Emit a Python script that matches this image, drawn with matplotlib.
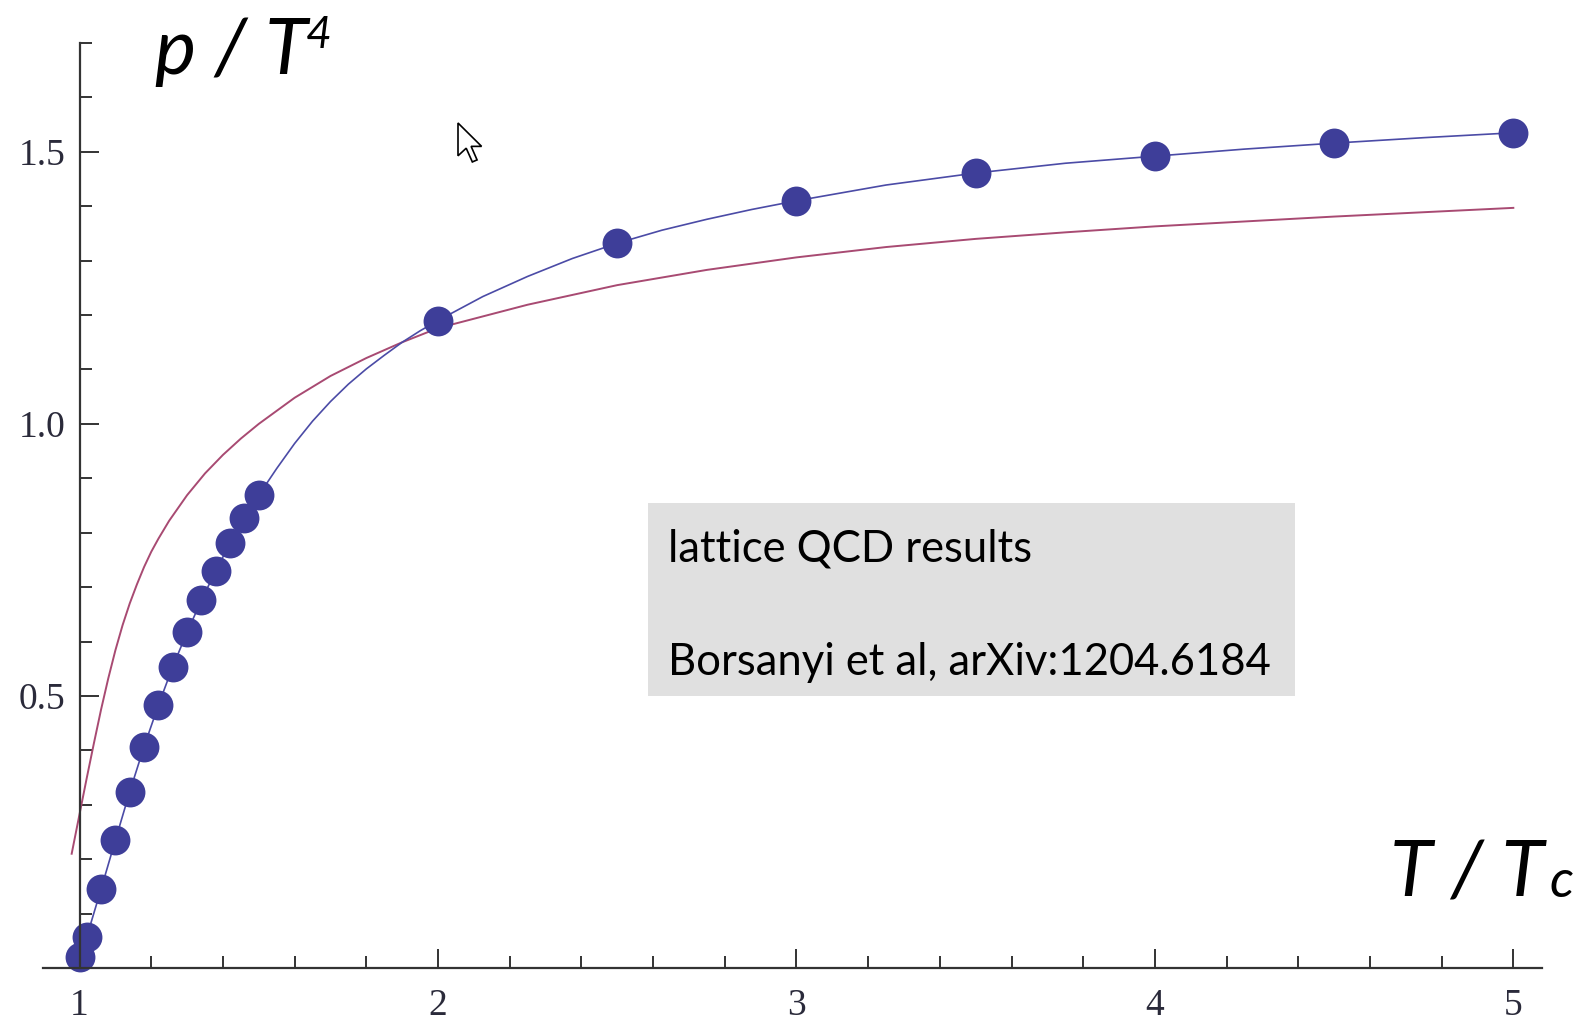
import matplotlib
matplotlib.use("Agg")
import matplotlib.pyplot as plt
from matplotlib.ticker import FixedLocator, NullFormatter, FixedFormatter
from matplotlib.patches import Rectangle, Polygon

# lattice QCD points (T/Tc, p/T^4)
t_points = [1.00, 1.02, 1.06, 1.10, 1.14, 1.18, 1.22, 1.26, 1.30, 1.34, 1.38,
            1.42, 1.46, 1.50, 2.00, 2.50, 3.00, 3.50, 4.00, 4.50, 5.00]
p_points = [0.021, 0.057, 0.145, 0.235, 0.324, 0.407, 0.483, 0.554, 0.617, 0.676,
            0.730, 0.781, 0.827, 0.869, 1.190, 1.332, 1.410, 1.461, 1.492, 1.516, 1.535]

# blue curve through the points
t_fit = [1.00, 1.02, 1.06, 1.10, 1.14, 1.18, 1.22, 1.26, 1.30, 1.34, 1.38, 1.42,
         1.46, 1.50, 1.55, 1.60, 1.65, 1.70, 1.75, 1.80, 1.85, 1.90, 1.95, 2.00,
         2.125, 2.25, 2.375, 2.50, 2.625, 2.75, 2.875, 3.00, 3.25, 3.50, 3.75,
         4.00, 4.25, 4.50, 4.75, 5.00]
p_fit = [0.021, 0.057, 0.145, 0.235, 0.324, 0.407, 0.483, 0.554, 0.617, 0.676,
         0.730, 0.781, 0.827, 0.869, 0.918, 0.964, 1.005, 1.041, 1.073, 1.101,
         1.126, 1.150, 1.171, 1.190, 1.234, 1.271, 1.304, 1.332, 1.356, 1.376,
         1.394, 1.410, 1.439, 1.461, 1.479, 1.492, 1.505, 1.516, 1.526, 1.535]

# red model curve
t_model = [0.978, 1.00, 1.02, 1.04, 1.06, 1.08, 1.10, 1.12, 1.14, 1.16, 1.18,
           1.20, 1.22, 1.25, 1.30, 1.35, 1.40, 1.45, 1.50, 1.60, 1.70, 1.80,
           1.90, 2.00, 2.25, 2.50, 2.75, 3.00, 3.25, 3.50, 3.75, 4.00, 4.50, 5.00]
p_model = [0.210, 0.283, 0.349, 0.413, 0.475, 0.532, 0.584, 0.630, 0.670, 0.705,
           0.737, 0.765, 0.789, 0.822, 0.869, 0.909, 0.943, 0.973, 1.000, 1.048,
           1.088, 1.121, 1.150, 1.176, 1.219, 1.255, 1.283, 1.306, 1.325, 1.340,
           1.352, 1.363, 1.381, 1.397]

x_major = [1, 2, 3, 4, 5]
x_minor = [1.2, 1.4, 1.6, 1.8, 2.2, 2.4, 2.6, 2.8, 3.2, 3.4, 3.6, 3.8,
           4.2, 4.4, 4.6, 4.8]
y_major = [0.5, 1.0, 1.5]
y_minor = [0.1, 0.2, 0.3, 0.4, 0.6, 0.7, 0.8, 0.9, 1.1, 1.2, 1.3, 1.4, 1.6, 1.7]

W, H = 1580, 1023
fig = plt.figure(figsize=(W / 100, H / 100), dpi=100)


def px(x, y):
    return x / W, 1 - y / H


ax = fig.add_axes([43 / W, 55 / H, (1542 - 43) / W, (968 - 43) / H])
ax.set_xlim(0.898, 5.080)
ax.set_ylim(0, 1.70)

ax.plot(t_model, p_model, color="#a84a72", lw=1.4, zorder=2, clip_on=False)
ax.plot(t_fit, p_fit, color="#4b4ba6", lw=1.2, zorder=2, clip_on=False)
ax.plot(t_points, p_points, "o", color="#3e3e99", ms=21.5, mec="none",
        zorder=3, clip_on=False)

for s in ["top", "right"]:
    ax.spines[s].set_visible(False)
ax.spines["left"].set_position(("data", 1))
for s in ["left", "bottom"]:
    ax.spines[s].set_linewidth(1.6)
    ax.spines[s].set_color("#333333")
    ax.spines[s].set_zorder(5)

ax.xaxis.set_major_locator(FixedLocator(x_major))
ax.xaxis.set_minor_locator(FixedLocator(x_minor))
ax.yaxis.set_major_locator(FixedLocator(y_major))
ax.yaxis.set_minor_locator(FixedLocator(y_minor))
ax.xaxis.set_major_formatter(FixedFormatter([str(v) for v in x_major]))
ax.yaxis.set_major_formatter(FixedFormatter(["%.1f" % v for v in y_major]))
ax.xaxis.set_minor_formatter(NullFormatter())
ax.yaxis.set_minor_formatter(NullFormatter())

ax.tick_params(which="both", direction="in", color="#333333", width=1.4)
ax.tick_params(which="major", length=13.5)
ax.tick_params(which="minor", length=8.5)
ax.tick_params(axis="x", which="major", pad=15)
ax.tick_params(axis="y", which="major", pad=10)
for lab in ax.get_xticklabels() + ax.get_yticklabels():
    lab.set_fontfamily("Liberation Serif")
    lab.set_fontsize(27)
    lab.set_color("#2a2a3a")

# axis titles
lab_font = dict(family="Lato", style="italic", color="black")
fig.text(*px(155, 74), "p / T", fontsize=56, ha="left", va="baseline", **lab_font)
fig.text(*px(306, 48), "4", fontsize=32, ha="left", va="baseline", **lab_font)
fig.text(*px(1390, 897), "T / T", fontsize=56, ha="left", va="baseline", **lab_font)
fig.text(*px(1549, 897), "c", fontsize=38, ha="left", va="baseline", **lab_font)

# reference box
x0, y0 = px(648, 696)
x1, y1 = px(1295, 503)
fig.patches.append(Rectangle((x0, y0), x1 - x0, y1 - y0, transform=fig.transFigure,
                             facecolor="#e0e0e0", edgecolor="none", zorder=1))
fig.text(*px(668, 561), "lattice QCD results", fontsize=31.4, family="Lato",
         ha="left", va="baseline", color="black")
fig.text(*px(668, 675), "Borsanyi et al, arXiv:1204.6184", fontsize=31.4,
         family="Lato", ha="left", va="baseline", color="black")

# mouse pointer
cur = [(0, 0), (0, 16), (4, 12.3), (7, 19), (9.3, 18), (6.4, 11.4), (11.5, 11.4)]
cur = [px(458 + 2.05 * a, 123 + 2.05 * b) for a, b in cur]
fig.patches.append(Polygon(cur, closed=True, transform=fig.transFigure,
                           facecolor="white", edgecolor="black", lw=1.2, zorder=6))

fig.savefig("out.png", dpi=100)
